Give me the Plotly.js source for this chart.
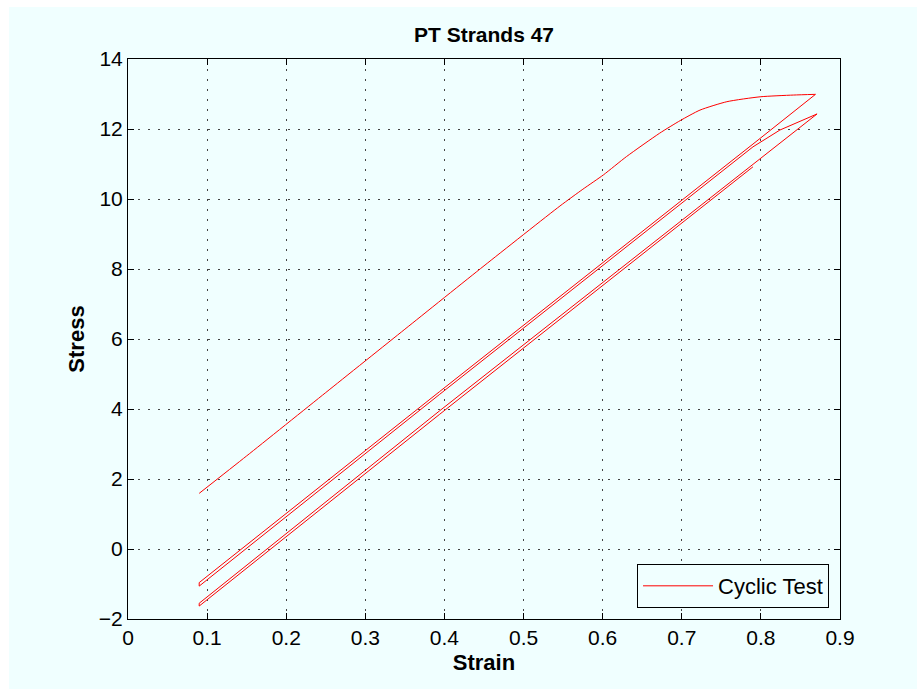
<!DOCTYPE html>
<html>
<head>
<meta charset="utf-8">
<script src="https://cdn.plot.ly/plotly-3.0.1.min.js"></script>
<style>
html, body { margin: 0; padding: 0; background: #ffffff; }
#chart { position: absolute; left: 9px; top: 7px; width: 908px; height: 682px; }
</style>
</head>
<body>
<div id="chart"></div>
<script>
// ---- data ----
const loadStrain    = [0.090, 0.150, 0.250, 0.350, 0.450, 0.546, 0.575, 0.601, 0.630, 0.672, 0.698, 0.723, 0.757, 0.799, 0.841, 0.869];
const loadStress    = [1.59, 2.66, 4.47, 6.28, 8.09, 9.80, 10.28, 10.69, 11.21, 11.88, 12.24, 12.54, 12.78, 12.92, 12.97, 12.99];

const unload1Strain = [0.869, 0.790, 0.394, 0.090];
const unload1Stress = [12.99, 11.57, 4.50, -0.96];

const reload1Strain = [0.090, 0.394, 0.790, 0.824, 0.871];
const reload1Stress = [-1.06, 4.42, 11.49, 11.97, 12.43];

const unload2Strain = [0.871, 0.394, 0.090];
const unload2Stress = [12.43, 3.95, -1.55];

const reload2Strain = [0.090, 0.394, 0.790];
const reload2Stress = [-1.63, 3.85, 10.92];

const xTicks = [0, 0.1, 0.2, 0.3, 0.4, 0.5, 0.6, 0.7, 0.8, 0.9];
const yTicks = [-2, 0, 2, 4, 6, 8, 10, 12, 14];

const seriesName = 'Cyclic Test';
const chartTitle = 'PT Strands 47';
const xLabel = 'Strain';
const yLabel = 'Stress';

// ---- build ----
const FONT = 'Liberation Sans, Arial, Helvetica, sans-serif';
const BG = '#f0ffff';
const RED = '#ff0000';

// loading branch (smooth curve)
const loadTrace = {
  x: loadStrain, y: loadStress, type: 'scatter', mode: 'lines', name: seriesName,
  legendgroup: 'cyc', showlegend: true,
  line: { color: RED, width: 1, shape: 'spline', smoothing: 0.6 }
};
// unload / reload branches (straight)
const cycStrain = [].concat(unload1Strain, reload1Strain, unload2Strain, reload2Strain);
const cycStress = [].concat(unload1Stress, reload1Stress, unload2Stress, reload2Stress);
const cycTrace = {
  x: cycStrain, y: cycStress, type: 'scatter', mode: 'lines', name: seriesName,
  legendgroup: 'cyc', showlegend: false,
  line: { color: RED, width: 1 }
};

const axisCommon = {
  showline: true, linecolor: '#000', linewidth: 1, mirror: 'ticks',
  ticks: 'inside', ticklen: 6, tickwidth: 1, tickcolor: '#000',
  showgrid: true, gridcolor: '#444', gridwidth: 1, griddash: '2px,8px',
  zeroline: false, fixedrange: true,
  tickfont: { family: FONT, size: 21, color: '#000' }
};

const layout = {
  width: 908, height: 682,
  paper_bgcolor: BG, plot_bgcolor: BG,
  margin: { l: 119, r: 77, t: 52, b: 70, pad: 0 },
  font: { family: FONT, size: 21, color: '#000' },
  title: { text: '<b>' + chartTitle + '</b>', font: { family: FONT, size: 21, color: '#000' },
           x: 0.5, xref: 'paper', xanchor: 'center', y: 1 - 28/682, yref: 'container', yanchor: 'middle' },
  xaxis: Object.assign({}, axisCommon, {
    range: [0, 0.9], tickmode: 'array', tickvals: xTicks, ticktext: xTicks.map(String),
    title: { text: '<b>' + xLabel + '</b>', font: { family: FONT, size: 22, color: '#000' }, standoff: 6 }
  }),
  yaxis: Object.assign({}, axisCommon, {
    range: [-2, 14], tickmode: 'array', tickvals: yTicks, ticktext: yTicks.map(v => v < 0 ? '\u2212' + Math.abs(v) : String(v)),
    title: { text: '<b>' + yLabel + '</b>', font: { family: FONT, size: 22, color: '#000' }, standoff: 8 }
  }),
  legend: {
    x: 0.9846, y: 0.0196, xanchor: 'right', yanchor: 'bottom',
    bgcolor: BG, bordercolor: '#000', borderwidth: 1,
    font: { family: FONT, size: 22, color: '#000' },
    itemwidth: 70
  },
  showlegend: true
};

Plotly.newPlot('chart', [loadTrace, cycTrace], layout, { displayModeBar: false, staticPlot: true });
</script>
</body>
</html>
